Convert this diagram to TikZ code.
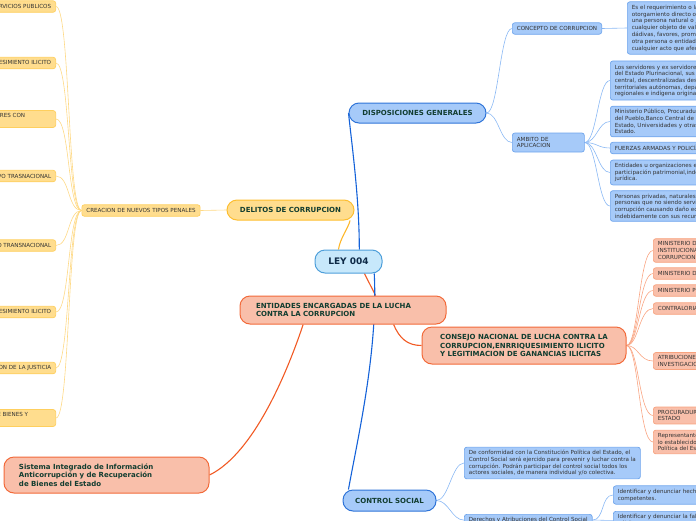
\documentclass[tikz,border=0pt]{standalone}
\usepackage{fontspec}
\setmainfont{DejaVu Sans}
\usetikzlibrary{backgrounds}
\definecolor{leyfill}{HTML}{C7E8FB}
\definecolor{leydraw}{HTML}{4E9FDA}
\definecolor{leytext}{HTML}{0E2A47}
\definecolor{titletext}{HTML}{123D30}
\definecolor{leaftext}{HTML}{333333}
\definecolor{bluefill}{HTML}{A6CAF9}
\definecolor{bluedraw}{HTML}{2F74D8}
\definecolor{bluethin}{HTML}{6FA5EC}
\definecolor{blueline}{HTML}{1462D9}
\definecolor{bluetwigcol}{HTML}{8AB8F4}
\definecolor{yellowfill}{HTML}{FFDD8E}
\definecolor{yellowdraw}{HTML}{FDBE30}
\definecolor{yellowthin}{HTML}{FECF5E}
\definecolor{yellowline}{HTML}{FDB72A}
\definecolor{yellowtwigcol}{HTML}{FED985}
\definecolor{redfill}{HTML}{F9BFAA}
\definecolor{reddraw}{HTML}{F26A3A}
\definecolor{redthin}{HTML}{F7A27E}
\definecolor{redline}{HTML}{F15A24}
\definecolor{redtwigcol}{HTML}{F9A583}

\begin{document}
\begin{tikzpicture}[x=1pt,y=-1pt,
  topic/.style={draw, rounded corners=10pt, line width=1pt, text=titletext,
    font=\bfseries\fontsize{7}{8.5}\selectfont, minimum height=20pt},
  bluetopic/.style={topic, fill=bluefill, draw=bluedraw},
  yellowtopic/.style={topic, fill=yellowfill, draw=yellowdraw},
  redtopic/.style={topic, fill=redfill, draw=reddraw, align=left},
  leaf/.style={draw, rounded corners=2.5pt, line width=.7pt, text=leaftext,
    font=\fontsize{5.6}{6.7}\selectfont, inner xsep=4.5pt, inner ysep=3pt,
    minimum height=11.5pt, align=left},
  blueleaf/.style={leaf, fill=bluefill, draw=bluethin, anchor=west},
  yellowleaf/.style={leaf, fill=yellowfill, draw=yellowthin, anchor=east},
  redleaf/.style={leaf, fill=redfill, draw=redthin, anchor=west},
  bluebranch/.style={draw=blueline, line width=1.1pt},
  yellowbranch/.style={draw=yellowline, line width=1.1pt},
  redbranch/.style={draw=redline, line width=1.1pt},
  bluetwig/.style={draw=bluetwigcol, line width=.6pt},
  yellowtwig/.style={draw=yellowtwigcol, line width=.6pt},
  redtwig/.style={draw=redtwigcol, line width=.6pt}]
\useasboundingbox (0,0) rectangle (696,520);
\clip (0,0) rectangle (696,520);

\node[topic, fill=leyfill, draw=leydraw, text=leytext, font=\bfseries\fontsize{9}{10}\selectfont,
  minimum width=67pt, minimum height=23pt] (ley) at (348.5,261.5) {LEY 004};
\node[bluetopic, minimum width=137pt] (disp) at (417.5,113) {DISPOSICIONES GENERALES};
\node[yellowtopic, minimum width=127pt] (delitos) at (290.5,210) {DELITOS DE CORRUPCION};
\node[redtopic, text width=174pt, inner xsep=16pt, minimum height=28pt] (entidades) at (343,310)
  {ENTIDADES ENCARGADAS DE LA LUCHA\\CONTRA LA CORRUPCION};
\node[redtopic, minimum width=204pt, inner xsep=15pt, minimum height=37pt] (consejo) at (524,345.5)
  {CONSEJO NACIONAL DE LUCHA CONTRA LA\\CORRUPCION,ENRRIQUESIMIENTO ILICITO\\Y LEGITIMACION DE GANANCIAS ILICITAS};
\node[redtopic, text width=175pt, inner xsep=15pt, minimum height=36pt] (sistema) at (106.5,475)
  {Sistema Integrado de Información\\Anticorrupción y de Recuperación\\de Bienes del Estado};
\node[bluetopic, minimum width=93pt, minimum height=21pt] (control) at (389.5,500.5) {CONTROL SOCIAL};

\node[blueleaf] (concepto) at (512,28.5) {CONCEPTO DE CORRUPCION};
\node[blueleaf, text width=63pt, minimum height=19pt] (ambito) at (512,142.5) {AMBITO DE\\APLICACION};
\node[blueleaf, font=\fontsize{5.6}{6.8}\selectfont] (definicion) at (627,28)
  {Es el requerimiento o la aceptación, el ofrecimiento u\\
   otorgamiento directo o indirecto, de un servidor público, de\\
   una persona natural o jurídica, nacional o extranjera, de\\
   cualquier objeto de valor pecuniario u otros beneficios como\\
   dádivas, favores, promesas o ventajas para sí mismo o para\\
   otra persona o entidad, a cambio de la acción u omisión de\\
   cualquier acto que afecte a los intereses del Estado.};
\node[blueleaf] (servidores) at (610,80.5)
  {Los servidores y ex servidores públicos de todos los Órganos\\
   del Estado Plurinacional, sus entidades e instituciones del nivel\\
   central, descentralizadas desconcentradas, y de las entidades\\
   territoriales autónomas, departamentales, municipales,\\
   regionales e indígena originario campesinas.};
\node[blueleaf] (ministerio) at (610,121.5)
  {Ministerio Público, Procuraduría General del Estado, Defensoría\\
   del Pueblo,Banco Central de Bolivia, Contraloría General del\\
   Estado, Universidades y otras entidades de la estructura del\\
   Estado.};
\node[blueleaf] (fuerzas) at (610,148) {FUERZAS ARMADAS Y POLICÍA BOLIVIANA};
\node[blueleaf] (organizaciones) at (610,172.5)
  {Entidades u organizaciones en las que el Estado tenga\\
   participación patrimonial,independientemente de su naturaleza\\
   jurídica.};
\node[blueleaf] (privadas) at (610,206)
  {Personas privadas, naturales o jurídicas y todas aquellas\\
   personas que no siendo servidores públicos cometan delitos de\\
   corrupción causando daño económico al Estado o se beneficien\\
   indebidamente con sus recursos.};

\node[yellowleaf, anchor=center] (tipos) at (141,210.5) {CREACION DE NUEVOS TIPOS PENALES};
\node[yellowleaf] (uso) at (56,6.5) {USO INDEBIDO DE BIENES Y SERVICIOS PUBLICOS};
\node[yellowleaf] (enriquecimiento) at (56,63) {ENRIQUESIMIENTO ILICITO};
\node[yellowleaf] (particulares) at (56,119)
  {ENRIQUECIMIENTO ILICITO DE PARTICULARES CON\hspace*{26pt}\\AFECTACION AL ESTADO};
\node[yellowleaf] (activo) at (56,176) {COHECHO ACTIVO TRASNACIONAL};
\node[yellowleaf] (pasivo) at (56,245.5) {COHECHO PASIVO TRANSNACIONAL};
\node[yellowleaf] (favorecimiento) at (56,312) {FAVORECIMIENTO AL ENRIQUESIMIENTO ILICITO};
\node[yellowleaf] (obstruccion) at (56,368) {OBSTRUCCION DE LA JUSTICIA};
\node[yellowleaf] (falsedad) at (56,418)
  {FALSEDAD EN LA DECLARACION JURADA DE BIENES Y\hspace*{23pt}\\RENTAS};

\node[redleaf] (transparencia) at (653,250.5)
  {MINISTERIO DE TRANSPARENCIA\\INSTITUCIONAL Y LUCHA CONTRA LA\\CORRUPCION};
\node[redleaf] (gobierno) at (653,273.5) {MINISTERIO DE GOBIERNO};
\node[redleaf] (publico) at (653,290.5) {MINISTERIO PUBLICO};
\node[redleaf] (contraloria) at (653,308.5) {CONTRALORIA GENERAL DEL ESTADO};
\node[redleaf] (atribuciones) at (653,361)
  {ATRIBUCIONES DE LA UNIDAD DE\\INVESTIGACIONES FINANCIERAS};
\node[redleaf] (procuraduria) at (653,415.5) {PROCURADURIA GENERAL DEL\\ESTADO};
\node[redleaf] (sociedad) at (653,442)
  {Representantes de la sociedad civil organizada de acuerdo a\\
   lo establecido en la Constitución\\Política del Estado.};

\node[blueleaf] (conformidad) at (464,463)
  {De conformidad con la Constitución Política del Estado, el\\
   Control Social será ejercido para prevenir y luchar contra la\\
   corrupción. Podrán participar del control social todos los\\
   actores sociales, de manera individual y/o colectiva.};
\node[blueleaf, anchor=north west] (derechos) at (464,514) {Derechos y Atribuciones del Control Social};
\node[blueleaf] (hechos) at (613,495)
  {Identificar y denunciar hechos de corrupción ante las autoridades\\competentes.};
\node[blueleaf, anchor=north west] (falta) at (613,511)
  {Identificar y denunciar la falta de transparencia de las entidades\\públicas.};

\begin{scope}[on background layer]
\draw[bluebranch] (ley.48) .. controls +(0,-50) and +(4,37) .. (disp.west);
\draw[yellowbranch] (ley.130) .. controls +(2,-12) and +(-2,8) .. (delitos.-10);
\draw[redbranch] (ley.-37) -- (entidades.24);
\draw[bluebranch] (ley.-25) .. controls +(4,77) and +(9,-50) .. (control.165);
\draw[redbranch] (entidades.-16) .. controls +(6,14) and +(-14,0) .. (consejo.west);
\draw[redbranch] (entidades.200) .. controls +(-15,45) and +(45,-22) .. (sistema.east);

\draw[bluetwig] (disp.east) .. controls +(12,0) and +(-12,0) .. (concepto.west);
\draw[bluetwig] (disp.east) .. controls +(12,0) and +(-12,0) .. (ambito.west);
\draw[bluetwig] (concepto.east) -- (definicion.west);
\draw[bluetwig] (ambito.east) .. controls +(12,0) and +(-12,0) .. (servidores.west);
\draw[bluetwig] (ambito.east) .. controls +(12,0) and +(-12,0) .. (ministerio.west);
\draw[bluetwig] (ambito.east) .. controls +(12,0) and +(-12,0) .. (fuerzas.west);
\draw[bluetwig] (ambito.east) .. controls +(12,0) and +(-12,0) .. (organizaciones.west);
\draw[bluetwig] (ambito.east) .. controls +(12,0) and +(-12,0) .. (privadas.west);

\draw[yellowtwig] (delitos.west) -- (tipos.east);
\draw[yellowtwig] (tipos.west) .. controls +(-14,0) and +(14,0) .. (uso.east);
\draw[yellowtwig] (tipos.west) .. controls +(-14,0) and +(14,0) .. (enriquecimiento.east);
\draw[yellowtwig] (tipos.west) .. controls +(-14,0) and +(14,0) .. (particulares.east);
\draw[yellowtwig] (tipos.west) .. controls +(-14,0) and +(14,0) .. (activo.east);
\draw[yellowtwig] (tipos.west) .. controls +(-14,0) and +(14,0) .. (pasivo.east);
\draw[yellowtwig] (tipos.west) .. controls +(-14,0) and +(14,0) .. (favorecimiento.east);
\draw[yellowtwig] (tipos.west) .. controls +(-14,0) and +(14,0) .. (obstruccion.east);
\draw[yellowtwig] (tipos.west) .. controls +(-14,0) and +(14,0) .. (falsedad.east);

\draw[redtwig] (consejo.east) .. controls +(12,0) and +(-14,0) .. (transparencia.west);
\draw[redtwig] (consejo.east) .. controls +(12,0) and +(-14,0) .. (gobierno.west);
\draw[redtwig] (consejo.east) .. controls +(12,0) and +(-14,0) .. (publico.west);
\draw[redtwig] (consejo.east) .. controls +(12,0) and +(-14,0) .. (contraloria.west);
\draw[redtwig] (consejo.east) .. controls +(12,0) and +(-14,0) .. (atribuciones.west);
\draw[redtwig] (consejo.east) .. controls +(12,0) and +(-14,0) .. (procuraduria.west);
\draw[redtwig] (consejo.east) .. controls +(12,0) and +(-14,0) .. (sociedad.west);

\draw[bluetwig] (control.east) .. controls +(12,0) and +(-12,0) .. (conformidad.west);
\draw[bluetwig] (control.east) .. controls +(12,0) and +(-12,0) .. (derechos.west);
\draw[bluetwig] (derechos.east) .. controls +(12,0) and +(-12,0) .. (hechos.west);
\draw[bluetwig] (derechos.east) .. controls +(12,0) and +(-12,0) .. (falta.west);
\end{scope}
\end{tikzpicture}
\end{document}
